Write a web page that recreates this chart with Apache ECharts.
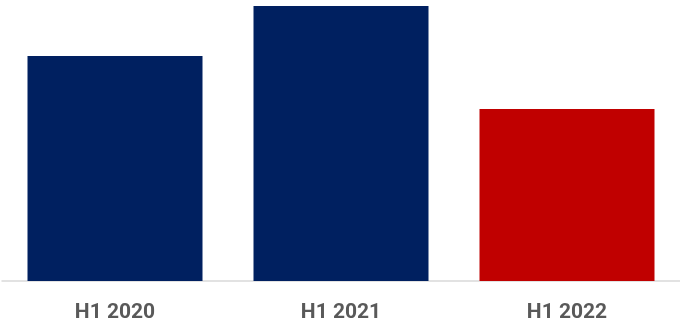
<!DOCTYPE html>
<html><head><meta charset="utf-8">
<script src="https://cdn.jsdelivr.net/npm/echarts@6/dist/echarts.min.js"></script>
<style>html,body{margin:0;padding:0;background:#fff}#c{width:680px;height:326px}</style>
</head><body><div id="c"></div>
<script>
const categories = ['H1 2020', 'H1 2021', 'H1 2022'];
const values = [225, 275, 172];
const barColors = ['#002060', '#002060', '#C00000'];

const chart = echarts.init(document.getElementById('c'), null, {renderer: 'canvas'});
chart.setOption({
  animation: false,
  grid: {left: 2, right: 0, top: 6, bottom: 45},
  xAxis: {
    type: 'category',
    data: categories,
    axisLine: {show: true, lineStyle: {color: '#d9d9d9', width: 1.5}},
    axisTick: {show: false},
    axisLabel: {margin: 21, color: '#595959', fontFamily: 'Roboto', fontWeight: 'bold', fontSize: 21}
  },
  yAxis: {
    type: 'value', min: 0, max: 275,
    show: false, splitLine: {show: false}
  },
  series: [{
    type: 'bar',
    barWidth: 175,
    data: values.map((v, i) => ({value: v, itemStyle: {color: barColors[i]}}))
  }]
});
</script></body></html>
